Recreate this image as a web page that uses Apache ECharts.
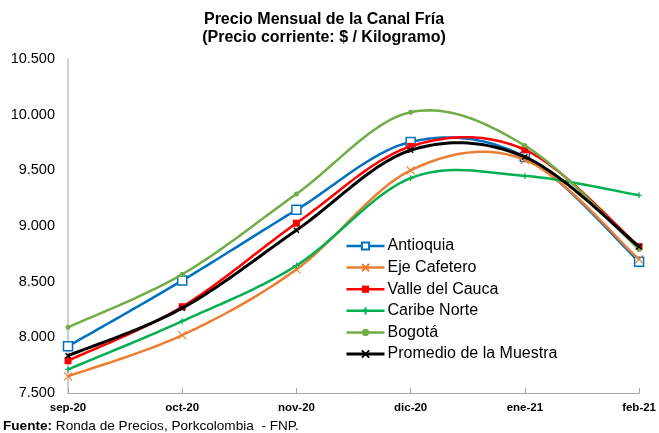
<!DOCTYPE html>
<html><head><meta charset="utf-8">
<script src="https://cdn.jsdelivr.net/npm/echarts@6/dist/echarts.min.js"></script>
<style>html,body{margin:0;padding:0;background:#fff}#c{width:659px;height:433px}</style>
</head><body><div id="c"></div>
<script>
var categories = ['sep-20','oct-20','nov-20','dic-20','ene-21','feb-21'];
var antioquia = [7920, 8510, 9145, 9755, 9620, 8680];
var ejeCafetero = [7650, 8020, 8610, 9500, 9595, 8700];
var valleCauca = [7790, 8275, 9025, 9715, 9685, 8815];
var caribeNorte = [7712, 8145, 8645, 9430, 9450, 9276];
var bogota = [8090, 8566, 9288, 10022, 9722, 8790];
var promedio = [7835, 8262, 8962, 9680, 9620, 8815];
var yTicks = {min: 7500, max: 10500, interval: 500};

var FONT = 'Liberation Sans, Arial, sans-serif';
var xPath = 'path://M0,0 L10,10 M10,0 L0,10';
var plusPath = 'path://M5,0 L5,10 M0,5 L10,5';

var defs = [
  {name: 'Antioquia', data: antioquia, color: '#0070C0', symbol: 'rect', size: 9, item: {color: '#fff', borderColor: '#0070C0', borderWidth: 1.5}, width: 2.5},
  {name: 'Eje Cafetero', data: ejeCafetero, color: '#ED7D31', symbol: xPath, size: 8, item: {color: 'none', borderColor: '#ED7D31', borderWidth: 1.2}, width: 2.5},
  {name: 'Valle del Cauca', data: valleCauca, color: '#FF0000', symbol: 'rect', size: 7, item: {color: '#FF0000'}, width: 2.5},
  {name: 'Caribe Norte', data: caribeNorte, color: '#00B050', symbol: plusPath, size: 6, item: {color: 'none', borderColor: '#00B050', borderWidth: 1.2}, width: 2.5},
  {name: 'Bogotá', data: bogota, color: '#70AD47', symbol: 'circle', size: 5, item: {color: '#70AD47'}, width: 2.5},
  {name: 'Promedio de la Muestra', data: promedio, color: '#000000', symbol: xPath, size: 5, item: {color: 'none', borderColor: '#000', borderWidth: 1.5}, width: 3}
];

function curveSeries(d, z){
  return {
    type: 'custom', name: d.name + ' curva', silent: true, z: z,
    data: d.data.map(function(v, i){ return [i, v]; }),
    encode: {x: 0, y: 1},
    renderItem: function(params, api){
      if (params.dataIndex !== 0) return null;
      var p = d.data.map(function(v, i){ return api.coord([i, v]); });
      var n = p.length, pts = [p[0]];
      for (var i = 0; i < n - 1; i++) {
        var p0 = p[Math.max(i - 1, 0)], p1 = p[i], p2 = p[i + 1], p3 = p[Math.min(i + 2, n - 1)];
        var c1 = [p1[0] + (p2[0] - p0[0]) / 6, p1[1] + (p2[1] - p0[1]) / 6];
        var c2 = [p2[0] - (p3[0] - p1[0]) / 6, p2[1] - (p3[1] - p1[1]) / 6];
        for (var k = 1; k <= 24; k++) {
          var t = k / 24, u = 1 - t;
          pts.push([
            u*u*u*p1[0] + 3*u*u*t*c1[0] + 3*u*t*t*c2[0] + t*t*t*p2[0],
            u*u*u*p1[1] + 3*u*u*t*c1[1] + 3*u*t*t*c2[1] + t*t*t*p2[1]
          ]);
        }
      }
      return {type: 'polyline', shape: {points: pts}, style: {stroke: d.color, lineWidth: d.width, fill: null, lineJoin: 'round'}};
    }
  };
}

function markerSeries(d, z){
  return {
    name: d.name, type: 'line', data: d.data, z: z,
    symbol: d.symbol, symbolSize: d.size, showSymbol: true,
    lineStyle: {color: d.color, width: d.width, opacity: 0},
    itemStyle: Object.assign({color: d.color}, d.item),
    emphasis: {disabled: true}
  };
}

var series = [];
defs.forEach(function(d, i){ series.push(curveSeries(d, 2 + i * 2)); });
defs.forEach(function(d, i){ series.push(markerSeries(d, 3 + i * 2)); });

var chart = echarts.init(document.getElementById('c'));
chart.setOption({
  animation: false,
  title: {
    text: 'Precio Mensual de la Canal Fría\n(Precio corriente: $ / Kilogramo)',
    left: 324, top: 11, textAlign: 'center', padding: 0,
    textStyle: {fontFamily: FONT, fontSize: 16, fontWeight: 'bold', color: '#000', lineHeight: 18}
  },
  graphic: [{
    type: 'text', left: 3, top: 419,
    style: {
      text: '{b|Fuente:} Ronda de Precios, Porkcolombia  - FNP.',
      rich: {b: {fontWeight: 'bold', fontFamily: FONT, fontSize: 13.6, fill: '#000'}},
      fontFamily: FONT, fontSize: 13.6, fill: '#000'
    }
  }],
  legend: {
    orient: 'vertical', left: 345, top: 238, padding: 0,
    itemWidth: 38, itemHeight: 9, itemGap: 5.6,
    textStyle: {fontFamily: FONT, fontSize: 16, color: '#000', lineHeight: 16, padding: [0, 0, 0, -2]},
    data: defs.map(function(d){ return {name: d.name, lineStyle: {color: d.color, width: d.width, opacity: 1}}; })
  },
  grid: {left: 68, right: 17, top: 59, bottom: 40, containLabel: false},
  xAxis: {
    type: 'category', data: categories, boundaryGap: false,
    axisLine: {lineStyle: {color: '#A6A6A6', width: 1}},
    axisTick: {inside: true, length: 5, lineStyle: {color: '#A6A6A6'}},
    axisLabel: {fontFamily: FONT, fontSize: 11.5, fontWeight: 'bold', color: '#000', margin: 9},
    splitLine: {show: false}
  },
  yAxis: {
    type: 'value', min: yTicks.min, max: yTicks.max, interval: yTicks.interval,
    axisLine: {show: true, lineStyle: {color: '#BFBFBF', width: 1.5}},
    axisTick: {show: false},
    splitLine: {show: false},
    axisLabel: {
      fontFamily: FONT, fontSize: 14.5, color: '#000', margin: 13,
      formatter: function(v){ return String(v).replace(/\B(?=(\d{3})+(?!\d))/g, '.'); }
    }
  },
  series: series
});
</script></body></html>
